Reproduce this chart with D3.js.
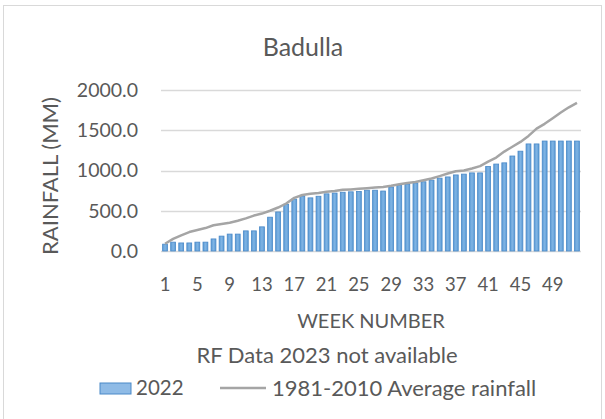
<!DOCTYPE html>
<html>
<head>
<meta charset="utf-8">
<script src="https://cdn.jsdelivr.net/npm/d3@7"></script>
<style>
  body { margin: 0; background: #fff; }
  text { font-family: Lato, "Open Sans", sans-serif; fill: #595959; }
</style>
</head>
<body>
<svg id="chart" width="605" height="419"></svg>
<script>
const width = 605;
const height = 419;

const weeks = d3.range(1, 53);
const rain2022 = [85, 110, 100, 100, 110, 110, 150, 185, 210, 210,
  250, 250, 300, 420, 485, 580, 645, 680, 660, 680,
  710, 720, 730, 735, 740, 755, 755, 745, 795, 820,
  830, 845, 860, 880, 905, 920, 945, 955, 970, 970,
  1050, 1080, 1095, 1180, 1240, 1330, 1330, 1366, 1366, 1366,
  1366, 1366];
const avgRain = [90, 150, 195, 235, 260, 285, 320, 335, 350, 375,
  405, 440, 465, 500, 540, 590, 660, 695, 710, 720,
  735, 745, 760, 765, 772, 780, 788, 795, 810, 828,
  845, 858, 880, 900, 930, 962, 990, 1000, 1025, 1055,
  1110, 1160, 1235, 1295, 1355, 1430, 1520, 1580, 1650, 1720,
  1785, 1840];
const yTicks = [0, 500, 1000, 1500, 2000];
const xTickWeeks = weeks.filter(w => (w - 1) % 4 === 0);

const svg = d3.select('#chart');

// chart frame
svg.append('rect')
  .attr('x', 3.5).attr('y', 5.5)
  .attr('width', 598).attr('height', 420)
  .attr('fill', 'none')
  .attr('stroke', '#d9d9d9');

const plot = {left: 161, right: 581, top: 90, bottom: 251};

const x = d3.scaleBand()
  .domain(weeks)
  .range([plot.left, plot.right])
  .paddingInner(0.4)
  .paddingOuter(0.2);

const y = d3.scaleLinear()
  .domain([0, 2000])
  .range([plot.bottom, plot.top]);

// gridlines
svg.append('g')
  .selectAll('line')
  .data(yTicks)
  .join('line')
  .attr('x1', plot.left)
  .attr('x2', plot.right)
  .attr('y1', d => Math.round(y(d)) + 0.5)
  .attr('y2', d => Math.round(y(d)) + 0.5)
  .attr('stroke', '#d9d9d9')
  .attr('stroke-width', 1.5);

// y tick labels
svg.append('g')
  .selectAll('text')
  .data(yTicks)
  .join('text')
  .attr('x', 138)
  .attr('y', d => y(d))
  .attr('dy', '0.35em')
  .attr('text-anchor', 'end')
  .style('font-size', '19.5px')
  .text(d => d.toFixed(1));

// bars
const defs = svg.append('defs');
const grad = defs.append('linearGradient')
  .attr('id', 'barGrad')
  .attr('x1', 0).attr('x2', 1).attr('y1', 0).attr('y2', 0);
grad.append('stop').attr('offset', '0%').attr('stop-color', '#5b9bd5');
grad.append('stop').attr('offset', '50%').attr('stop-color', '#80b4e4');
grad.append('stop').attr('offset', '100%').attr('stop-color', '#5b9bd5');

svg.append('g')
  .selectAll('rect')
  .data(weeks)
  .join('rect')
  .attr('x', d => x(d))
  .attr('width', x.bandwidth())
  .attr('y', (d, i) => y(rain2022[i]))
  .attr('height', (d, i) => y(0) - y(rain2022[i]))
  .attr('fill', 'url(#barGrad)')
  .attr('stroke', '#4a89c8')
  .attr('stroke-width', 0.8);

// average line
const line = d3.line()
  .x((d, i) => x(weeks[i]) + x.bandwidth() / 2)
  .y(d => y(d));

svg.append('path')
  .datum(avgRain)
  .attr('d', line)
  .attr('fill', 'none')
  .attr('stroke', '#a5a5a5')
  .attr('stroke-width', 2.5)
  .attr('stroke-linejoin', 'round');

// x tick labels
svg.append('g')
  .selectAll('text')
  .data(xTickWeeks)
  .join('text')
  .attr('x', d => x(d) + x.bandwidth() / 2)
  .attr('y', 285)
  .attr('dy', '0.35em')
  .attr('text-anchor', 'middle')
  .style('font-size', '18.5px')
  .text(d => d);

// titles
svg.append('text')
  .attr('x', 303).attr('y', 47)
  .attr('dy', '0.35em')
  .attr('text-anchor', 'middle')
  .style('font-size', '25px')
  .text('Badulla');

svg.append('text')
  .attr('transform', 'translate(50,176) rotate(-90)')
  .attr('dy', '0.35em')
  .attr('text-anchor', 'middle')
  .style('font-size', '22px')
  .text('RAINFALL (MM)');

svg.append('text')
  .attr('x', 371).attr('y', 321)
  .attr('dy', '0.35em')
  .attr('text-anchor', 'middle')
  .style('font-size', '20px')
  .text('WEEK NUMBER');

svg.append('text')
  .attr('x', 327).attr('y', 355)
  .attr('dy', '0.35em')
  .attr('text-anchor', 'middle')
  .style('font-size', '22px')
  .text('RF Data 2023 not available');

// legend
const legend = svg.append('g');
legend.append('rect')
  .attr('x', 100).attr('y', 383)
  .attr('width', 31).attr('height', 11)
  .attr('fill', '#8fbbe6')
  .attr('stroke', '#4a89c8');
legend.append('text')
  .attr('x', 136).attr('y', 388)
  .attr('dy', '0.35em')
  .style('font-size', '20.5px')
  .text('2022');
legend.append('line')
  .attr('x1', 220).attr('x2', 266)
  .attr('y1', 388).attr('y2', 388)
  .attr('stroke', '#a5a5a5')
  .attr('stroke-width', 2.5);
legend.append('text')
  .attr('x', 272).attr('y', 388)
  .attr('dy', '0.35em')
  .style('font-size', '22px')
  .text('1981-2010 Average rainfall');
</script>
</body>
</html>
